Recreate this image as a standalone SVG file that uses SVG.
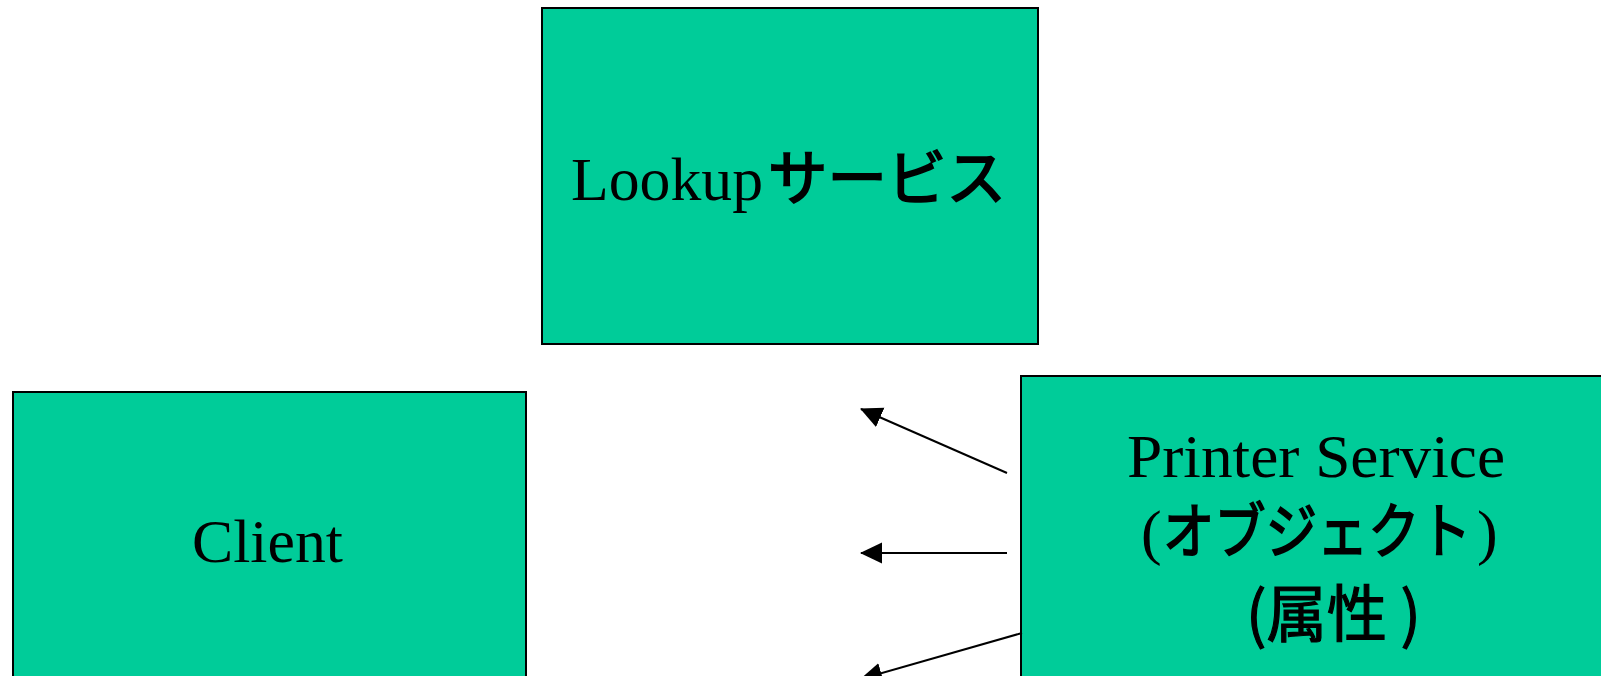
<svg xmlns="http://www.w3.org/2000/svg" width="1601" height="676" viewBox="0 0 1601 676">
  <style>
    .box { fill: #00CC99; stroke: #000; stroke-width: 2; }
    .lbl { font-family: "Liberation Serif", "Noto Sans CJK JP", serif; font-size: 62px; fill: #000; }
    .jp { font-family: "Noto Sans CJK JP", sans-serif; font-weight: 400; stroke: #000; stroke-width: 1.8; stroke-linejoin: miter; }
    .conn { stroke: #000; stroke-width: 2; fill: none; marker-end: url(#arrow); }
  </style>
  <defs>
    <marker id="arrow" markerUnits="userSpaceOnUse" markerWidth="24" markerHeight="22" refX="21" refY="10.5" orient="auto">
      <path d="M0,0 L22,10.5 L0,21 z" fill="#000"/>
    </marker>
  </defs>
  <rect width="1601" height="676" fill="#fff"/>
  <g id="lookup">
    <rect class="box" x="542" y="8" width="496" height="336"/>
    <text class="lbl" y="200"><tspan x="571" textLength="192" lengthAdjust="spacingAndGlyphs">Lookup</tspan><tspan class="jp" x="768" textLength="238" lengthAdjust="spacingAndGlyphs" font-size="60">サービス</tspan></text>
  </g>
  <g id="client">
    <rect class="box" x="13" y="392" width="513" height="320"/>
    <text class="lbl" x="192" y="562" font-size="64" textLength="151" lengthAdjust="spacingAndGlyphs">Client</text>
  </g>
  <g id="printer">
    <rect class="box" x="1021" y="376" width="620" height="340"/>
    <text class="lbl" x="1127" y="477" font-size="66" textLength="378" lengthAdjust="spacingAndGlyphs">Printer Service</text>
    <text class="lbl" y="553"><tspan x="1141">(</tspan><tspan class="jp" x="1163" textLength="308" lengthAdjust="spacingAndGlyphs" font-size="60">オブジェクト</tspan><tspan x="1477">)</tspan></text>
    <text class="lbl jp" x="1246" y="637" font-size="60" textLength="175" lengthAdjust="spacingAndGlyphs" style="stroke-width:1.2">(属性 )</text>
  </g>
  <g id="connectors">
    <line class="conn" x1="1007" y1="473" x2="861" y2="409"/>
    <line class="conn" x1="1007" y1="553" x2="861" y2="553"/>
    <line class="conn" x1="1022" y1="633" x2="861" y2="679"/>
  </g>
</svg>
